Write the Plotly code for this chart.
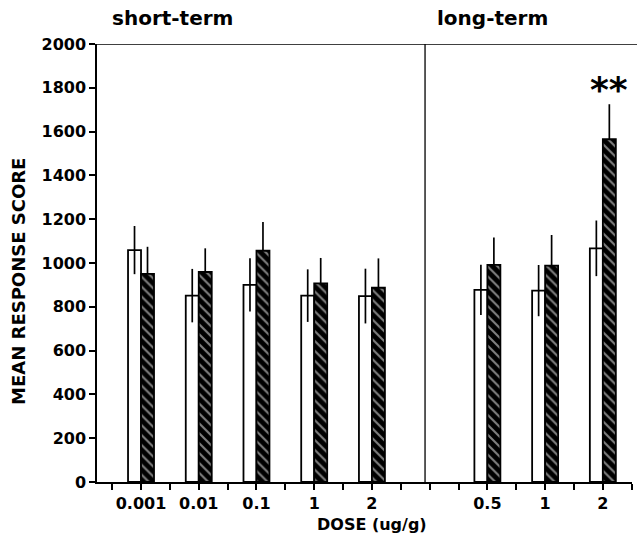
import plotly.graph_objects as go

# ---- data ----
short_doses = ["0.001", "0.01", "0.1", "1", "2"]
long_doses = ["0.5", "1", "2"]

short_open_mean = [1059, 851, 900, 851, 849]
short_open_se = [110, 122, 122, 120, 125]
short_hatch_mean = [950, 959, 1056, 907, 887]
short_hatch_se = [124, 108, 131, 116, 134]

long_open_mean = [877, 874, 1067]
long_open_se = [115, 117, 127]
long_hatch_mean = [991, 988, 1565]
long_hatch_se = [126, 140, 160]

y_ticks = [0, 200, 400, 600, 800, 1000, 1200, 1400, 1600, 1800, 2000]

# ---- layout of groups on a numeric x axis ----
short_pos = [1 + 2 * i for i in range(len(short_doses))]
long_pos = [13 + 2 * i for i in range(len(long_doses))]
positions = short_pos + long_pos
labels = short_doses + long_doses
open_mean = short_open_mean + long_open_mean
open_se = short_open_se + long_open_se
hatch_mean = short_hatch_mean + long_hatch_mean
hatch_se = short_hatch_se + long_hatch_se

BW = 0.45
FONT = "DejaVu Sans"

fig = go.Figure()
fig.add_trace(go.Bar(
    x=positions, y=open_mean, width=BW, offset=-BW,
    marker=dict(color="white", line=dict(color="black", width=1.8)),
    error_y=dict(type="data", array=open_se, visible=True, color="black",
                 thickness=1.7, width=0),
    showlegend=False,
))
fig.add_trace(go.Bar(
    x=positions, y=hatch_mean, width=BW, offset=0,
    marker=dict(color="black", line=dict(color="black", width=1.8),
                pattern=dict(shape="\\", fgcolor="white", bgcolor="black",
                             size=7, solidity=0.3)),
    error_y=dict(type="data", symmetric=False, array=hatch_se,
                 arrayminus=[0] * len(hatch_se), visible=True, color="black",
                 thickness=1.7, width=0),
    showlegend=False,
))

tickvals = list(range(0, 19))
ticktext = [labels[positions.index(v)] if v in positions else "" for v in tickvals]

fig.update_layout(
    width=637, height=535,
    margin=dict(l=97, r=5, t=44, b=53),
    paper_bgcolor="white", plot_bgcolor="white",
    barmode="overlay",
    font=dict(family=FONT, color="black"),
    xaxis=dict(range=[-0.525, 18.01], tickvals=tickvals, ticktext=ticktext,
               ticks="outside", ticklen=6, tickwidth=1.5, tickcolor="black",
               showline=True, linecolor="black", linewidth=1.5,
               showgrid=False, zeroline=False,
               tickfont=dict(family=FONT, size=16, color="black", weight="bold")),
    yaxis=dict(range=[0, 2000], tickvals=y_ticks,
               ticks="outside", ticklen=6, tickwidth=1.5, tickcolor="black",
               showline=True, linecolor="black", linewidth=1.5,
               showgrid=False, zeroline=False,
               tickfont=dict(family=FONT, size=16, color="black", weight="bold")),
)

# frame top line and period divider
fig.add_shape(type="line", xref="paper", yref="y", x0=-0.007, x1=1.01, y0=2000, y1=2000,
              line=dict(color="black", width=1.5))
fig.add_shape(type="line", xref="x", yref="y", x0=10.84, x1=10.84, y0=0, y1=2000,
              line=dict(color="black", width=1.3))

fig.add_annotation(text="MEAN RESPONSE SCORE", xref="paper", yref="paper",
                   x=-0.1458, y=0.459, textangle=-90, showarrow=False,
                   xanchor="center", yanchor="middle",
                   font=dict(family=FONT, size=18, weight="bold"))
fig.add_annotation(text="DOSE (ug/g)", xref="paper", yref="paper",
                   x=0.514, y=-0.098, showarrow=False,
                   xanchor="center", yanchor="middle",
                   font=dict(family=FONT, size=16, weight="bold"))
fig.add_annotation(text="short-term", xref="paper", yref="paper",
                   x=0.0243, y=1.0594, showarrow=False,
                   xanchor="left", yanchor="middle",
                   font=dict(family=FONT, size=20, weight="bold"))
fig.add_annotation(text="long-term", xref="paper", yref="paper",
                   x=0.6318, y=1.0594, showarrow=False,
                   xanchor="left", yanchor="middle",
                   font=dict(family=FONT, size=20, weight="bold"))
fig.add_annotation(text="**", xref="x", yref="y",
                   x=long_pos[-1] + BW / 2, y=1790, showarrow=False,
                   xanchor="center", yanchor="middle",
                   font=dict(family=FONT, size=36, weight="bold"))

fig.write_html("out.html", config={"displayModeBar": False},
               post_script="document.body.style.margin='0';document.body.style.overflow='hidden';")
